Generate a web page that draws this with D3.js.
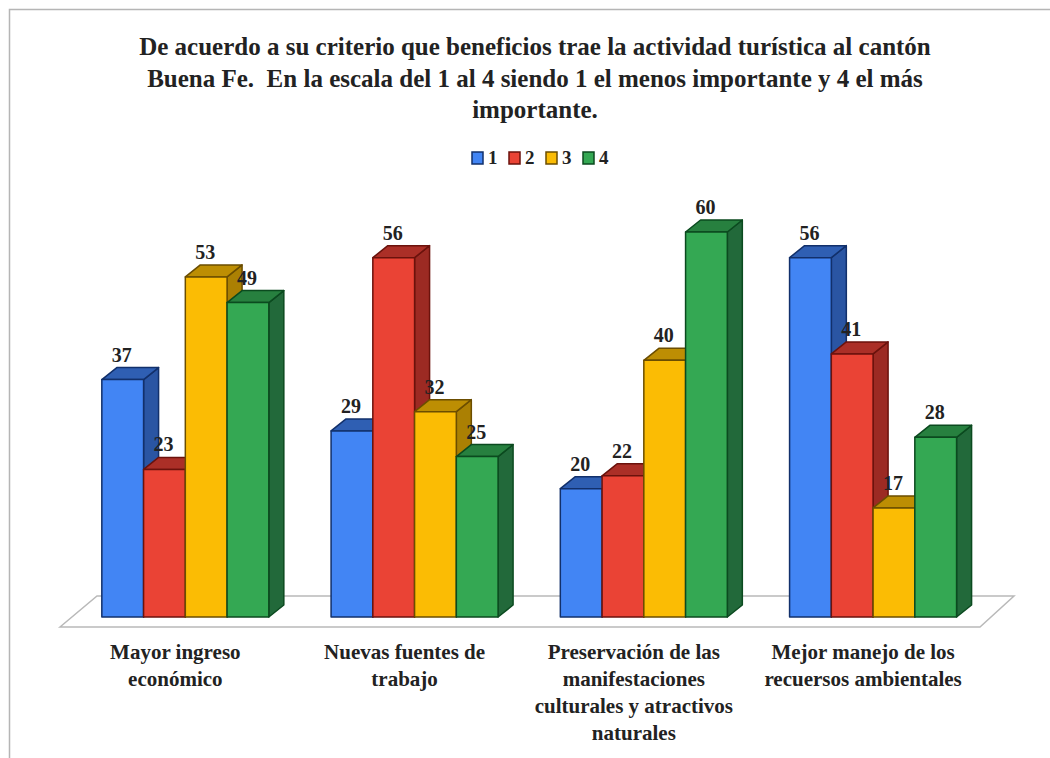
<!DOCTYPE html>
<html>
<head>
<meta charset="utf-8">
<script src="https://cdn.jsdelivr.net/npm/d3@7"></script>
<style>
  html, body { margin: 0; padding: 0; background: #fff; }
  svg { display: block; }
  text { font-family: "Liberation Serif", serif; font-weight: bold; fill: #222; white-space: pre; }
</style>
</head>
<body>
<svg class="chart"></svg>
<script>
const titleLines = [
  'De acuerdo a su criterio que beneficios trae la actividad turística al cantón',
  'Buena Fe.  En la escala del 1 al 4 siendo 1 el menos importante y 4 el más',
  'importante.',
];
const categories = [
  ['Mayor ingreso', 'económico'],
  ['Nuevas fuentes de', 'trabajo'],
  ['Preservación de las', 'manifestaciones', 'culturales y atractivos', 'naturales'],
  ['Mejor manejo de los', 'recuersos ambientales'],
];
const seriesNames = ['1', '2', '3', '4'];
const series1 = [37, 29, 20, 56];
const series2 = [23, 56, 22, 41];
const series3 = [53, 32, 40, 17];
const series4 = [49, 25, 60, 28];
const seriesValues = [series1, series2, series3, series4];
const frontColors = ['#4285f4', '#ea4335', '#fbbc04', '#34a853'];
const topColors = ['#2f5fb3', '#ab2f27', '#bd8e03', '#27803f'];
const sideColors = ['#2a55a3', '#9c2a23', '#ab8003', '#22693a'];
const edgeColors = ['#12306b', '#6b120c', '#6b4d00', '#0b4a1f'];

const width = 1050;
const height = 758;
const depthX = 15;
const depthY = 12;

const svg = d3.select('.chart')
  .attr('width', width)
  .attr('height', height);

// frame of the pasted picture
svg.append('path')
  .attr('d', `M1050,9.5H9.5V${height}`)
  .attr('fill', 'none')
  .attr('stroke', '#b5b5b5')
  .attr('stroke-width', 1.5);

svg.append('g')
  .selectAll('text')
  .data(titleLines)
  .enter()
  .append('text')
  .attr('x', 535)
  .attr('y', (d, i) => 55 + i * 31.5)
  .attr('text-anchor', 'middle')
  .style('font-size', '25px')
  .text(d => d);

const x0 = d3.scaleBand()
  .domain(d3.range(categories.length))
  .range([70.7, 987.7]);

const x1 = d3.scaleBand()
  .domain(seriesNames)
  .range([0, 167]);

const y = d3.scaleLinear()
  .domain([0, 60])
  .range([617, 232]);

// legend
const legendX = d3.scalePoint()
  .domain(seriesNames)
  .range([472, 583]);

const legend = svg.append('g')
  .selectAll('g')
  .data(seriesNames)
  .enter()
  .append('g')
  .attr('transform', d => `translate(${legendX(d)},152)`);

legend.append('rect')
  .attr('width', 11)
  .attr('height', 12)
  .attr('fill', (d, i) => frontColors[i])
  .attr('stroke', (d, i) => edgeColors[i])
  .attr('stroke-width', 1.5);

legend.append('text')
  .attr('x', 16)
  .attr('y', 12)
  .style('font-size', '19px')
  .text(d => d);

// floor
svg.append('path')
  .attr('d', 'M60,627L97,596H1014L980,627Z')
  .attr('fill', '#fff')
  .attr('stroke', '#b9b9b9')
  .attr('stroke-width', 1.5);

const bars = [];
categories.forEach((cat, c) => {
  seriesNames.forEach((name, s) => {
    bars.push({ c, s, name, value: seriesValues[s][c] });
  });
});

const bar = svg.append('g')
  .selectAll('g')
  .data(bars)
  .enter()
  .append('g')
  .attr('transform', d => `translate(${x0(d.c) + (x0.bandwidth() - 167) / 2 + x1(d.name)},0)`)
  .attr('stroke', d => edgeColors[d.s])
  .attr('stroke-width', 1.5)
  .attr('stroke-linejoin', 'round');

bar.append('path')
  .attr('fill', d => sideColors[d.s])
  .attr('d', (d) => {
    const w = x1.bandwidth();
    return `M${w},${y(d.value)}l${depthX},${-depthY}V${y(0) - depthY}l${-depthX},${depthY}Z`;
  });

bar.append('path')
  .attr('fill', d => topColors[d.s])
  .attr('d', (d) => {
    const w = x1.bandwidth();
    return `M0,${y(d.value)}l${depthX},${-depthY}h${w}l${-depthX},${depthY}Z`;
  });

bar.append('rect')
  .attr('width', x1.bandwidth())
  .attr('y', d => y(d.value))
  .attr('height', d => y(0) - y(d.value))
  .attr('fill', d => frontColors[d.s]);

// value labels go last so they sit over the neighbouring bars
svg.append('g')
  .selectAll('text')
  .data(bars)
  .enter()
  .append('text')
  .attr('x', d => x0(d.c) + (x0.bandwidth() - 167) / 2 + x1(d.name) + x1.bandwidth() / 2 - 1)
  .attr('y', d => y(d.value) - 18)
  .attr('text-anchor', 'middle')
  .style('font-size', '20px')
  .text(d => d.value);

// category axis, wrapped by hand
const axis = svg.append('g')
  .attr('transform', 'translate(-10,627)')
  .call(d3.axisBottom(x0).tickSize(0).tickFormat(''));

axis.select('.domain').remove();

axis.selectAll('.tick text')
  .attr('y', 0)
  .attr('dy', 0)
  .style('font-size', '21px')
  .attr('fill', '#222')
  .each(function (d) {
    d3.select(this)
      .selectAll('tspan')
      .data(categories[d])
      .enter()
      .append('tspan')
      .attr('x', 0)
      .attr('y', (t, i) => 32 + i * 27)
      .text(t => t);
  });
</script>
</body>
</html>
